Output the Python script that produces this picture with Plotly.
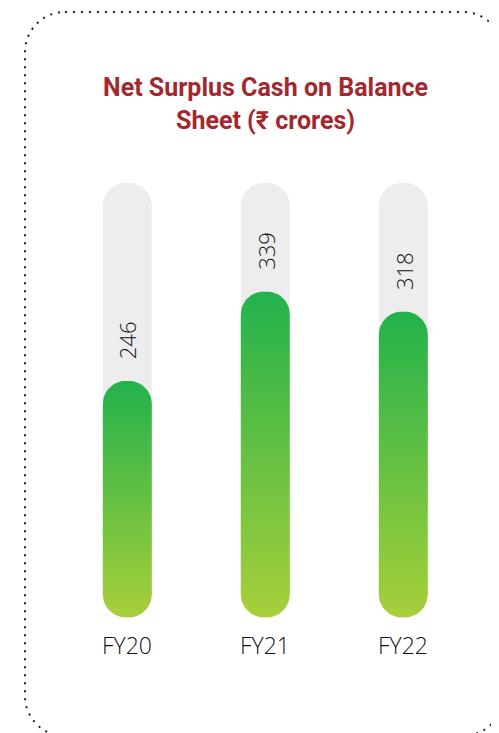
import numpy as np
import plotly.graph_objects as go

# ---- data ----
categories = ["FY20", "FY21", "FY22"]
values = [246, 339, 318]
track_max = 452  # grey background track height (same units)
title_text = "Net Surplus Cash on Balance<br>Sheet (₹ crores)"

# ---- styling ----
OFF = 8                      # default page body margin
W, H = 499 - OFF, 733 - OFF  # figure size so it ends at the window edge
X0_PX, X_STEP_PX = 127.3 - OFF, 138.0       # pixel of first category, pixel per category
Y0_PX, Y_PX_PER_UNIT = 617.3 - OFF, 0.961   # pixel of value 0, pixel per unit
BAR_W_PX = 49
RADIUS_PX = 23
TRACK_COLOR = "#ecedec"
GRAD_BOTTOM = "#a8cf3a"
GRAD_TOP = "#22b24c"
TITLE_COLOR = "#a3282d"
TEXT_COLOR = "#111111"

x_range = [-X0_PX / X_STEP_PX, (W - X0_PX) / X_STEP_PX]
y_range = [-(H - Y0_PX) / Y_PX_PER_UNIT, Y0_PX / Y_PX_PER_UNIT]


def rounded_rect(xc, y0, y1, n=14):
    """Rounded rectangle path in data units for a bar centred at xc from y0 to y1."""
    hw = BAR_W_PX / 2 / X_STEP_PX
    rx = RADIUS_PX / X_STEP_PX
    ry = RADIUS_PX / Y_PX_PER_UNIT
    ry = min(ry, (y1 - y0) / 2)
    xs, ys = [], []
    corners = [
        (xc + hw - rx, y1 - ry, 0, 90),
        (xc - hw + rx, y1 - ry, 90, 180),
        (xc - hw + rx, y0 + ry, 180, 270),
        (xc + hw - rx, y0 + ry, 270, 360),
    ]
    for cx, cy, a0, a1 in corners:
        t = np.radians(np.linspace(a0, a1, n))
        xs.extend(cx + rx * np.cos(t))
        ys.extend(cy + ry * np.sin(t))
    xs.append(xs[0])
    ys.append(ys[0])
    return xs, ys


fig = go.Figure()

for i, (cat, v) in enumerate(zip(categories, values)):
    tx, ty = rounded_rect(i, 0, track_max)
    fig.add_trace(go.Scatter(
        x=tx, y=ty, mode="lines", fill="toself", fillcolor=TRACK_COLOR,
        line=dict(width=0, color="rgba(0,0,0,0)"), hoverinfo="skip", showlegend=False,
    ))
    bx, by = rounded_rect(i, 0, v)
    fig.add_trace(go.Scatter(
        x=bx, y=by, mode="lines", fill="toself",
        fillgradient=dict(type="vertical", colorscale=[[0, GRAD_BOTTOM], [1, GRAD_TOP]],
                          start=0, stop=v),
        line=dict(width=0, color="rgba(0,0,0,0)"), name=cat, hoverinfo="skip", showlegend=False,
    ))
    fig.add_annotation(
        x=i, y=v, xref="x", yref="y", text=str(v), textangle=-90, showarrow=False,
        yanchor="middle", xanchor="center", yshift=41,
        font=dict(family="Open Sans", size=22, color=TEXT_COLOR, weight=300),
    )
    fig.add_annotation(
        x=i, y=0, xref="x", yref="y", text=cat, showarrow=False,
        yanchor="middle", xanchor="center", yshift=-28,
        font=dict(family="Open Sans", size=23, color=TEXT_COLOR, weight=300),
    )

# title
fig.add_annotation(
    x=(265 - OFF) / W, y=1 - (104 - OFF) / H, xref="paper", yref="paper", text=title_text,
    showarrow=False, xanchor="center", yanchor="middle",
    font=dict(family="Roboto", size=25, color=TITLE_COLOR, weight="bold"),
)

# dotted rounded border (window pixel coordinates -> paper)
L, T, R, B, RR = 25, 12, 503, 736, 40
k = 0.5523 * RR


def P(px, py):
    return f"{(px - OFF) / W:.5f},{1 - (py - OFF) / H:.5f}"


path = (
    f"M {P(L + RR, T)} L {P(R - RR, T)} "
    f"C {P(R - RR + k, T)} {P(R, T + RR - k)} {P(R, T + RR)} "
    f"L {P(R, B - RR)} "
    f"C {P(R, B - RR + k)} {P(R - RR + k, B)} {P(R - RR, B)} "
    f"L {P(L + RR, B)} "
    f"C {P(L + RR - k, B)} {P(L, B - RR + k)} {P(L, B - RR)} "
    f"L {P(L, T + RR)} "
    f"C {P(L, T + RR - k)} {P(L + RR - k, T)} {P(L + RR, T)} Z"
)
fig.add_shape(type="path", path=path, xref="paper", yref="paper",
              line=dict(color="#222222", width=2, dash="2px,6px"), layer="above")

fig.update_layout(
    width=W, height=H, margin=dict(l=0, r=0, t=0, b=0),
    paper_bgcolor="white", plot_bgcolor="white", showlegend=False,
    xaxis=dict(range=x_range, visible=False, fixedrange=True),
    yaxis=dict(range=y_range, visible=False, fixedrange=True),
)

fig.write_html("out.html")
